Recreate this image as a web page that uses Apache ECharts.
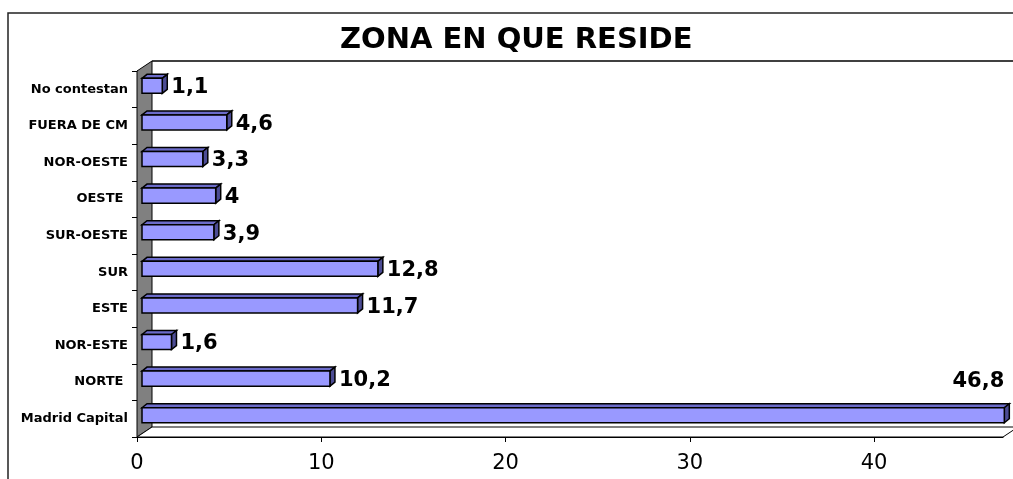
<!DOCTYPE html>
<html>
<head>
<meta charset="utf-8">
<script src="https://cdn.jsdelivr.net/npm/echarts@6/dist/echarts.min.js"></script>
<style>
  html, body { margin: 0; padding: 0; background: #fff; }
  #chart { width: 1013px; height: 479px; }
</style>
</head>
<body>
<div id="chart"></div>
<script>
// Data (bottom to top)
const zones = ['Madrid Capital', 'NORTE ', 'NOR-ESTE', 'ESTE', 'SUR', 'SUR-OESTE', 'OESTE ', 'NOR-OESTE', 'FUERA DE CM', 'No contestan'];
const percents = [46.8, 10.2, 1.6, 11.7, 12.8, 3.9, 4, 3.3, 4.6, 1.1];
const xTicks = [0, 10, 20, 30, 40];

const AXIS_MAX = 47;
const WALL_DX = 15, WALL_DY = 10;   // depth of the 3D box

const fmt = v => String(v).replace('.', ',');

// grey left wall, floor and back wall edge
function renderFrame(params, api) {
    const g = params.coordSys;
    const left = g.x, top = g.y, bottom = g.y + g.height, right = g.x + g.width;
    return {
        type: 'group',
        children: [
            {
                type: 'polygon',
                shape: { points: [[left, top], [left + WALL_DX, top - WALL_DY], [left + WALL_DX, bottom - WALL_DY], [left, bottom]] },
                style: { fill: '#808080', stroke: '#000', lineWidth: 1 }
            },
            {
                type: 'polygon',
                shape: { points: [[left, bottom], [left + WALL_DX, bottom - WALL_DY], [right + WALL_DX, bottom - WALL_DY], [right, bottom]] },
                style: { fill: '#fff', stroke: '#000', lineWidth: 1 }
            },
            {
                type: 'line',
                shape: { x1: left + WALL_DX, y1: top - WALL_DY, x2: right + WALL_DX + 20, y2: top - WALL_DY },
                style: { stroke: '#000', lineWidth: 1.5 }
            }
        ]
    };
}

// 3D looking bar: front face, top face, right face, value label
function renderBar(params, api) {
    const v = api.value(0);
    const idx = api.value(1);
    const p0 = api.coord([0, idx]);
    const p1 = api.coord([v, idx]);
    const band = api.size([0, 1])[1];
    const c = p0[1];
    const x0 = p0[0] + 5, x1 = p1[0] + 5;
    const y0 = c - band * 0.3, y1 = c + band * 0.11;
    const dx = 5, dy = 4;
    const g = params.coordSys;
    const onTop = x1 + 60 > g.x + g.width;
    const label = onTop
        ? { x: x1, y: c - band * 1.02, align: 'right' }
        : { x: x1 + dx + 4, y: c - 1.5, align: 'left' };
    return {
        type: 'group',
        children: [
            {
                type: 'polygon',
                shape: { points: [[x0, y0], [x0 + dx, y0 - dy], [x1 + dx, y0 - dy], [x1, y0]] },
                style: { fill: '#6b6bc9', stroke: '#000', lineWidth: 1.5 }
            },
            {
                type: 'polygon',
                shape: { points: [[x1, y0], [x1 + dx, y0 - dy], [x1 + dx, y1 - dy], [x1, y1]] },
                style: { fill: '#4c4c94', stroke: '#000', lineWidth: 1.5 }
            },
            {
                type: 'rect',
                shape: { x: x0, y: y0, width: x1 - x0, height: y1 - y0 },
                style: { fill: '#9999ff', stroke: '#000', lineWidth: 1.5 }
            },
            {
                type: 'text',
                style: {
                    text: fmt(v),
                    x: label.x,
                    y: label.y,
                    align: label.align,
                    verticalAlign: 'middle',
                    fill: '#000',
                    font: 'bold 21px "DejaVu Sans"'
                }
            }
        ]
    };
}

const chart = echarts.init(document.getElementById('chart'));
chart.setOption({
    animation: false,
    backgroundColor: '#fff',
    title: {
        text: 'ZONA EN QUE RESIDE',
        left: 340,
        top: 26,
        padding: 0,
        textStyle: { fontFamily: 'DejaVu Sans', fontWeight: 'bold', fontSize: 29, color: '#000' }
    },
    graphic: [{
        type: 'rect',
        shape: { x: 8, y: 13, width: 1020, height: 480 },
        style: { fill: 'none', stroke: '#222', lineWidth: 1.5 },
        silent: true
    }],
    grid: { left: 137, right: 10, top: 71, bottom: 42 },
    xAxis: {
        type: 'value',
        min: 0,
        max: AXIS_MAX,
        interval: 10,
        axisLine: { show: true, lineStyle: { color: '#000', width: 1 } },
        axisTick: { show: true, length: 5, lineStyle: { color: '#000' } },
        splitLine: { show: false },
        axisLabel: {
            margin: 16,
            color: '#000',
            fontFamily: 'DejaVu Sans',
            fontSize: 21,
            showMaxLabel: false,
            formatter: v => xTicks.includes(v) ? String(v) : ''
        }
    },
    yAxis: {
        type: 'category',
        data: zones,
        axisLine: { show: true, lineStyle: { color: '#000', width: 1 } },
        axisTick: { show: true, length: 5, lineStyle: { color: '#000' } },
        axisLabel: {
            margin: 9,
            color: '#000',
            fontFamily: 'DejaVu Sans',
            fontWeight: 'bold',
            fontSize: 13
        }
    },
    series: [
        {
            type: 'custom',
            name: 'frame',
            renderItem: renderFrame,
            data: [[0, 0]],
            encode: { x: 0, y: 1 },
            z: 1,
            silent: true
        },
        {
            type: 'custom',
            name: 'Zona',
            renderItem: renderBar,
            data: percents.map((v, i) => [v, i]),
            encode: { x: 0, y: 1 },
            z: 3
        }
    ]
});
</script>
</body>
</html>
